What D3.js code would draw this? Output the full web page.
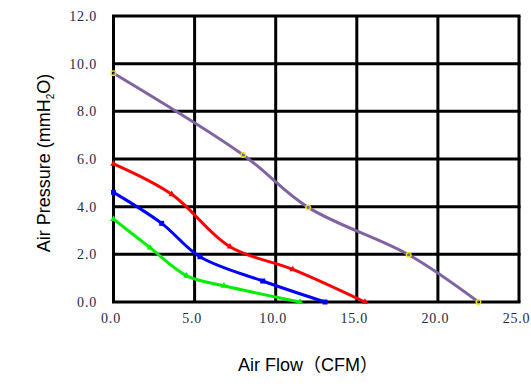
<!DOCTYPE html>
<html>
<head>
<meta charset="utf-8">
<script src="https://cdn.jsdelivr.net/npm/d3@7"></script>
<style>
  html, body { margin: 0; padding: 0; background: #fff; }
  svg { display: block; }
</style>
</head>
<body>
<svg id="chart" width="531" height="390"></svg>
<script>
// ---- data ----
const xTicks = [0, 5, 10, 15, 20, 25];
const yTicks = [0, 2, 4, 6, 8, 10, 12];

const purpleX = [0, 8.0, 12.0, 18.2, 22.5];
const purpleY = [9.6, 6.17, 3.97, 1.98, 0];

const redX = [0, 3.59, 7.18, 11.05, 15.5];
const redY = [5.8, 4.52, 2.32, 1.37, 0];

const blueX = [0, 2.97, 5.33, 9.2, 13.04];
const blueY = [4.6, 3.30, 1.90, 0.88, 0];

const greenX = [0, 2.25, 4.51, 6.81, 11.5];
const greenY = [3.48, 2.28, 1.10, 0.68, 0];

const xLabel = "Air Flow（CFM）";

// ---- chart ----
const svg = d3.select("#chart");
const x = d3.scaleLinear().domain([0, 25]).range([113.5, 519]);
const y = d3.scaleLinear().domain([0, 12]).range([302, 16]);

const fmt = d3.format(".1f");
const labelFont = "'Liberation Serif', 'DejaVu Serif', serif";
const sansFont = "'Liberation Sans', Arial, 'Noto Sans CJK SC', sans-serif";

// grid
const grid = svg.append("g");
grid.selectAll("line.v").data(xTicks).join("line")
  .attr("x1", d => x(d)).attr("x2", d => x(d))
  .attr("y1", y(12)).attr("y2", y(0))
  .attr("stroke", "#000").attr("stroke-width", 3);
grid.selectAll("line.h").data(yTicks).join("line")
  .attr("class", "h")
  .attr("x1", x(0) - 1.5).attr("x2", x(25) + 1.5)
  .attr("y1", d => y(d)).attr("y2", d => y(d))
  .attr("stroke", "#000").attr("stroke-width", 3);

// tick labels
svg.append("g").selectAll("text").data(yTicks).join("text")
  .attr("x", 97).attr("y", d => y(d) + 5)
  .attr("text-anchor", "end")
  .attr("font-family", labelFont).attr("font-size", 14)
  .attr("letter-spacing", 0.8)
  .attr("fill", "#1f2a44")
  .text(d => fmt(d));

svg.append("g").selectAll("text").data(xTicks).join("text")
  .attr("x", d => x(d) - 2.5).attr("y", 323)
  .attr("text-anchor", "middle")
  .attr("font-family", labelFont).attr("font-size", 14)
  .attr("letter-spacing", 0.8)
  .attr("fill", "#1f2a44")
  .text(d => fmt(d));

// axis titles
const yt = svg.append("text")
  .attr("transform", "translate(50,163) rotate(-90)")
  .attr("text-anchor", "middle")
  .attr("font-family", sansFont).attr("font-size", 18)
  .attr("fill", "#000");
yt.append("tspan").text("Air Pressure (mmH");
yt.append("tspan").attr("font-size", 10).attr("dy", 4).text("2");
yt.append("tspan").attr("dy", -4).text("O)");

svg.append("text")
  .attr("x", 308).attr("y", 371)
  .attr("text-anchor", "middle")
  .attr("font-family", sansFont).attr("font-size", 18)
  .attr("fill", "#000")
  .text(xLabel);

// series
const series = [
  { xs: purpleX, ys: purpleY, color: "#8064a2", marker: "circle" },
  { xs: redX, ys: redY, color: "#ff0000", marker: "triangle" },
  { xs: blueX, ys: blueY, color: "#0000ff", marker: "square" },
  { xs: greenX, ys: greenY, color: "#00ee00", marker: "triangle" }
];

const line = d3.line()
  .x(d => x(d[0])).y(d => y(d[1]))
  .curve(d3.curveCatmullRom.alpha(0.5));

series.forEach(s => {
  const pts = s.xs.map((v, i) => [v, s.ys[i]]);
  svg.append("path")
    .attr("d", line(pts))
    .attr("fill", "none")
    .attr("stroke", s.color)
    .attr("stroke-width", 3);
  const g = svg.append("g");
  if (s.marker === "circle") {
    g.selectAll("circle").data(pts).join("circle")
      .attr("cx", d => x(d[0])).attr("cy", d => y(d[1]))
      .attr("r", 2.3).attr("fill", "none")
      .attr("stroke", "#e8e800").attr("stroke-width", 1.3);
  } else if (s.marker === "square") {
    g.selectAll("rect").data(pts).join("rect")
      .attr("x", d => x(d[0]) - 2.5).attr("y", d => y(d[1]) - 2.5)
      .attr("width", 5).attr("height", 5)
      .attr("fill", s.color);
  } else {
    const sym = d3.symbol().type(d3.symbolTriangle).size(18);
    g.selectAll("path").data(pts).join("path")
      .attr("transform", d => `translate(${x(d[0])},${y(d[1])})`)
      .attr("d", sym)
      .attr("fill", s.color);
  }
});
</script>
</body>
</html>
